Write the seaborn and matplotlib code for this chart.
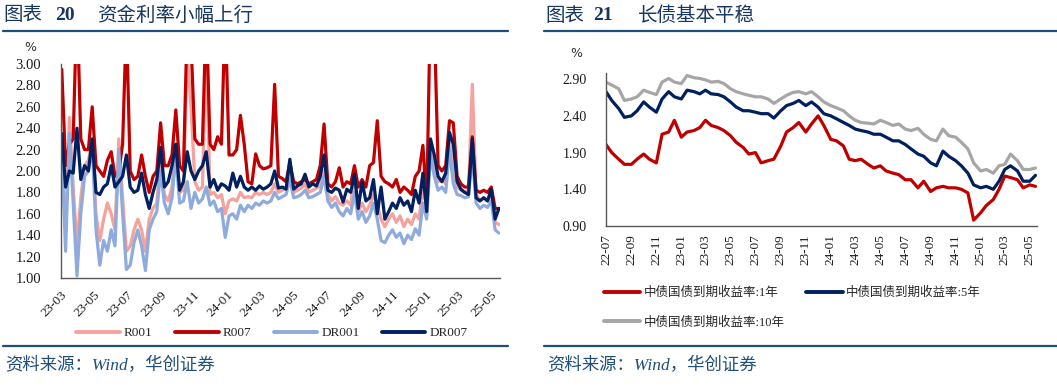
import pandas as pd
import matplotlib
matplotlib.use('Agg')
import matplotlib.pyplot as plt
import matplotlib.dates as mdates
from matplotlib.lines import Line2D
import seaborn as sns

# ---- left panel: weekly money market rates (%) ----
week_start = '2023-03-03'
r001 = [2.10, 1.45, 2.50, 1.85, 1.30, 1.75, 2.05, 2.10, 2.28, 1.60, 1.35, 1.55, 1.70, 1.60, 1.45, 2.30,
        1.75, 1.25, 1.30, 1.45, 1.55, 1.45, 1.25, 1.55, 1.65, 1.70, 2.10, 1.78, 1.72, 1.85, 2.25, 1.80,
        1.82, 3.10, 2.60, 1.90,
        1.82, 1.85, 3.20, 1.78, 1.80, 1.75, 1.78, 1.60, 1.72, 1.74, 1.72, 1.80, 1.75, 1.76, 1.75, 1.80,
        1.78, 1.80, 1.78, 1.80, 1.88, 1.80, 1.82, 1.84, 1.98, 1.80, 1.82, 1.84, 1.88, 1.80, 1.82, 1.84,
        1.86, 2.00, 1.78, 1.72, 1.76, 1.70, 1.68, 1.72,
        1.68, 1.98, 1.62, 1.70, 1.62, 1.68, 1.78, 1.68, 1.55, 1.48, 1.55, 1.60, 1.52, 1.58, 1.48, 1.55,
        1.50, 1.60, 1.55, 1.85, 1.65, 2.25, 2.05, 1.90, 1.92, 1.88, 2.30, 1.95, 1.85, 1.82, 1.80, 1.82,
        2.81, 1.78, 1.72, 1.75, 1.72, 1.78, 1.52, 1.50]
r007 = [2.95, 2.05, 2.25, 2.30, 3.60, 2.30, 2.20, 2.20, 2.60, 2.05, 2.00, 1.95, 2.10, 2.18, 1.95, 2.00,
        2.25, 3.40, 2.00, 1.92, 1.95, 2.15, 1.95, 1.80, 1.95, 2.00, 2.45, 2.05, 2.05, 2.15, 2.57, 2.05,
        2.00, 3.40, 3.20, 2.30,
        2.25, 2.25, 3.50, 2.25, 2.20, 2.32, 2.25, 3.50, 2.15, 2.15, 2.20, 2.52, 2.25, 1.90, 1.88, 2.16,
        2.05, 2.02, 2.03, 2.05, 2.81, 1.95, 1.93, 1.90, 2.08, 1.90, 1.88, 1.90, 1.92, 1.88, 1.90, 1.92,
        2.05, 2.44, 1.88, 1.85, 1.90, 2.03, 1.85, 1.90,
        1.88, 2.05, 1.85, 1.92, 1.85, 2.05, 2.08, 2.47, 1.95, 1.90, 1.88, 1.85, 1.92, 1.80, 1.85, 1.82,
        1.78, 1.95, 2.00, 2.24, 1.70, 3.60, 3.40, 2.05, 2.00, 2.05, 2.47, 2.45, 1.95, 1.88, 1.85, 1.85,
        2.32, 1.82, 1.80, 1.82, 1.80, 1.85, 1.65, 1.65]
dr001 = [2.20, 1.25, 2.35, 1.70, 1.02, 1.60, 1.95, 2.00, 2.25, 1.45, 1.12, 1.35, 1.25, 1.45, 1.30, 2.20,
         1.60, 1.08, 1.12, 1.33, 1.45, 1.30, 1.07, 1.45, 1.55, 1.62, 2.00, 1.70, 1.60, 1.75, 2.15, 1.70,
         1.72, 1.90, 1.65, 1.80,
         1.70, 1.74, 1.85, 1.68, 1.72, 1.62, 1.65, 1.38, 1.58, 1.60, 1.55, 1.68, 1.62, 1.68, 1.65, 1.70,
         1.68, 1.72, 1.70, 1.72, 1.80, 1.74, 1.76, 1.78, 1.92, 1.75, 1.76, 1.78, 1.82, 1.75, 1.76, 1.78,
         1.80, 1.95, 1.72, 1.66, 1.70, 1.62, 1.58, 1.65,
         1.60, 1.80, 1.55, 1.62, 1.52, 1.58, 1.70, 1.55, 1.35, 1.33, 1.40, 1.45, 1.38, 1.42, 1.32, 1.40,
         1.36, 1.46, 1.40, 1.70, 1.55, 2.15, 1.95, 1.82, 1.85, 1.80, 2.20, 1.88, 1.78, 1.77, 1.75, 1.76,
         2.14, 1.70, 1.65, 1.68, 1.66, 1.72, 1.45, 1.42]
dr007 = [2.35, 1.85, 2.00, 1.98, 2.40, 1.92, 2.05, 2.00, 2.30, 1.80, 1.78, 1.85, 1.88, 2.05, 1.85, 1.90,
         1.95, 2.15, 1.85, 1.80, 1.82, 1.98, 1.78, 1.65, 1.80, 1.92, 2.22, 1.85, 1.90, 2.05, 2.25, 1.82,
         1.90, 2.18, 2.00, 1.92,
         2.00, 2.05, 2.18, 1.85, 1.92, 1.82, 1.88, 1.86, 1.82, 1.98, 1.85, 1.95, 1.85, 1.82, 1.85, 1.82,
         1.86, 1.83, 1.85, 1.88, 2.00, 1.84, 1.85, 1.83, 2.11, 1.83, 1.86, 1.88, 1.97, 1.85, 1.88, 1.86,
         1.95, 2.15, 1.82, 1.80, 1.84, 1.82, 1.71, 1.83,
         1.80, 1.97, 1.65, 1.90, 1.72, 1.75, 1.92, 1.60, 1.85, 1.55, 1.62, 1.70, 1.65, 1.75, 1.68, 1.72,
         1.62, 1.82, 1.70, 1.98, 1.62, 2.30, 2.15, 1.95, 1.90, 1.98, 2.36, 2.25, 1.90, 1.83, 1.80, 1.78,
         2.30, 1.75, 1.72, 1.75, 1.72, 1.83, 1.55, 1.65]
money_names = ['R001', 'R007', 'DR001', 'DR007']
money_colors = ['#F4A29B', '#C00000', '#8FAADC', '#002060']

# ---- right panel: semi-monthly CGB yields (%) ----
bond_start = '2022-07-01'
cgb_1y = [2.01, 1.90, 1.81, 1.74, 1.74, 1.81, 1.88, 1.81, 1.76, 2.15,
          2.18, 2.34, 2.11, 2.18, 2.20, 2.24, 2.34, 2.27, 2.24, 2.20,
          2.13, 2.04, 1.97, 1.88, 1.90, 1.76, 1.79, 1.81, 1.99, 2.18,
          2.24, 2.31, 2.18, 2.29, 2.40, 2.27, 2.08, 2.06, 1.99, 1.81,
          1.79, 1.81, 1.74, 1.69, 1.72, 1.65, 1.62, 1.60, 1.53, 1.53,
          1.42, 1.51, 1.37, 1.42, 1.44, 1.42, 1.42, 1.40, 1.35, 0.98,
          1.08, 1.18, 1.26, 1.40, 1.58, 1.56, 1.53, 1.42, 1.46, 1.44]
cgb_5y = [2.73, 2.61, 2.50, 2.38, 2.40, 2.47, 2.59, 2.52, 2.45, 2.63,
          2.73, 2.66, 2.63, 2.75, 2.73, 2.70, 2.75, 2.70, 2.69, 2.66,
          2.59, 2.52, 2.47, 2.47, 2.45, 2.43, 2.43, 2.37, 2.47, 2.54,
          2.57, 2.61, 2.54, 2.59, 2.52, 2.43, 2.40, 2.36, 2.31, 2.27,
          2.22, 2.20, 2.18, 2.15, 2.15, 2.11, 2.06, 2.06, 2.01, 1.95,
          1.88, 1.85, 1.76, 1.72, 1.92, 1.85, 1.79, 1.72, 1.62, 1.46,
          1.42, 1.44, 1.40, 1.51, 1.67, 1.72, 1.65, 1.51, 1.51, 1.59]
cgb_10y = [2.86, 2.82, 2.77, 2.61, 2.63, 2.66, 2.75, 2.72, 2.69, 2.86,
           2.91, 2.86, 2.84, 2.95, 2.92, 2.91, 2.89, 2.86, 2.87, 2.84,
           2.77, 2.73, 2.70, 2.68, 2.66, 2.66, 2.63, 2.57, 2.63, 2.68,
           2.72, 2.73, 2.70, 2.73, 2.66, 2.59, 2.54, 2.51, 2.47, 2.40,
           2.34, 2.31, 2.30, 2.29, 2.34, 2.31, 2.27, 2.29, 2.22, 2.20,
           2.23, 2.15, 2.08, 2.06, 2.22, 2.13, 2.11, 2.04, 1.95, 1.76,
           1.65, 1.67, 1.62, 1.72, 1.74, 1.88, 1.79, 1.67, 1.67, 1.69]
bond_names = ['中债国债到期收益率:1年', '中债国债到期收益率:5年', '中债国债到期收益率:10年']
bond_colors = ['#C00000', '#002060', '#A6A6A6']

sns.set_theme(style='white')
plt.rcParams['font.family'] = ['Liberation Serif', 'Noto Sans CJK SC']
plt.rcParams['axes.unicode_minus'] = False

W, H = 1057, 386
fig = plt.figure(figsize=(W / 100, H / 100), dpi=100)
RULE = '#1F4E79'
AXC = '#595959'
CJK = ['Noto Sans CJK SC', 'DejaVu Sans']


def fx(px):
    return px / W


def fy(py):
    return 1 - py / H


def style_axis(ax, fs):
    for s in ['top', 'right']:
        ax.spines[s].set_visible(False)
    for s in ['left', 'bottom']:
        ax.spines[s].set_color(AXC)
        ax.spines[s].set_linewidth(1.0)
    ax.tick_params(axis='both', colors=AXC, labelcolor='#1a1a1a', length=3, width=0.8,
                   direction='out', labelsize=fs)
    ax.tick_params(axis='y', pad=11)
    ax.xaxis.set_major_locator(mdates.MonthLocator(bymonth=[1, 3, 5, 7, 9, 11]))
    ax.xaxis.set_major_formatter(mdates.DateFormatter('%y-%m'))
    ax.set_xlabel('')
    ax.set_ylabel('')
    ax.grid(False)


# ---- left chart ----
dates_w = pd.date_range(week_start, periods=len(r001), freq='7D')
money = pd.DataFrame({'date': dates_w, 'R001': r001, 'R007': r007, 'DR001': dr001, 'DR007': dr007})
money = money.melt('date', var_name='series', value_name='rate')

ax1 = fig.add_axes([fx(60.7), fy(278), fx(500 - 60.7), (278 - 64) / H])
sns.lineplot(data=money, x='date', y='rate', hue='series', hue_order=money_names,
             palette=dict(zip(money_names, money_colors)), linewidth=2.3, legend=False, ax=ax1)
ax1.set_ylim(1.0, 3.0)
ax1.set_yticks([1.0 + 0.2 * i for i in range(11)])
ax1.yaxis.set_major_formatter(matplotlib.ticker.FormatStrFormatter('%.2f'))
ax1.set_xlim(pd.Timestamp('2023-03-01'), pd.Timestamp('2025-05-18'))
style_axis(ax1, 10.5)
for lab in ax1.get_xticklabels():
    lab.set_rotation(45)
    lab.set_ha('right')
    lab.set_rotation_mode('anchor')
    lab.set_fontsize(9.5)
ax1.tick_params(axis='x', pad=5)

h1 = [Line2D([0], [0], color=c, lw=2.8) for c in money_colors]
fig.legend(h1, money_names, loc='center', bbox_to_anchor=(fx(272), fy(333)), ncol=4,
           frameon=False, fontsize=9.5, handlelength=3.3, handletextpad=0.3,
           columnspacing=1.7, borderpad=0, borderaxespad=0)

# ---- right chart ----
dates_b = pd.date_range(bond_start, periods=len(cgb_1y), freq='SMS')
bond = pd.DataFrame({'date': dates_b, bond_names[0]: cgb_1y, bond_names[1]: cgb_5y,
                     bond_names[2]: cgb_10y})
bond = bond.melt('date', var_name='series', value_name='yield')

ax2 = fig.add_axes([fx(606), fy(226), fx(1036.7 - 606), (226 - 73.3) / H])
sns.lineplot(data=bond, x='date', y='yield', hue='series', hue_order=bond_names,
             palette=dict(zip(bond_names, bond_colors)), linewidth=2.3, legend=False, ax=ax2)
ax2.set_ylim(0.90, 2.98)
ax2.set_yticks([0.90, 1.40, 1.90, 2.40, 2.90])
ax2.yaxis.set_major_formatter(matplotlib.ticker.FormatStrFormatter('%.2f'))
ax2.set_xlim(pd.Timestamp('2022-07-01'), pd.Timestamp('2025-05-18'))
style_axis(ax2, 10)
for lab in ax2.get_xticklabels():
    lab.set_rotation(90)
    lab.set_fontsize(9.5)
ax2.tick_params(axis='x', pad=3)

h2 = [Line2D([0], [0], color=c, lw=2.8) for c in bond_colors]
order = [0, 2, 1]
fig.legend([h2[i] for i in order], [bond_names[i] for i in order], loc='upper left',
           bbox_to_anchor=(fx(604), fy(287)), ncol=2, frameon=False, fontsize=9,
           handlelength=2.9, handletextpad=0.3, columnspacing=1.7, labelspacing=1.35,
           borderpad=0, borderaxespad=0)

# ---- titles, rules, notes ----
TC = '#17375E'
fig.text(fx(3), fy(15), '图表', fontsize=14, family=CJK, color=TC, va='center')
fig.text(fx(55), fy(15), '20', fontsize=14, family='Liberation Serif', weight='bold', color=TC, va='center')
fig.text(fx(97), fy(15), '资金利率小幅上行', fontsize=14, family=CJK, color=TC, va='center')
fig.text(fx(545), fy(15.5), '图表', fontsize=14, family=CJK, color=TC, va='center')
fig.text(fx(593), fy(15.5), '21', fontsize=14, family='Liberation Serif', weight='bold', color=TC, va='center')
fig.text(fx(638), fy(15.5), '长债基本平稳', fontsize=14, family=CJK, color=TC, va='center')

for x0, x1 in [(3, 508), (544, 1057)]:
    for yy in (31, 345.5):
        fig.add_artist(Line2D([fx(x0), fx(x1)], [fy(yy), fy(yy)], color=RULE, lw=1.6))

fig.text(fx(30), fy(47.5), '%', fontsize=9, family='DejaVu Sans', color='#333333', ha='center', va='center')
fig.text(fx(576), fy(53.5), '%', fontsize=9, family='DejaVu Sans', color='#333333', ha='center', va='center')

fig.text(fx(5), fy(366), '资料来源：Wind，华创证券', fontsize=12.5, family=['Liberation Serif', 'Noto Sans CJK SC'],
         style='italic', color=RULE, va='center')
fig.text(fx(547), fy(366), '资料来源：Wind，华创证券', fontsize=12.5, family=['Liberation Serif', 'Noto Sans CJK SC'],
         style='italic', color=RULE, va='center')

fig.savefig('out.png', dpi=100)
